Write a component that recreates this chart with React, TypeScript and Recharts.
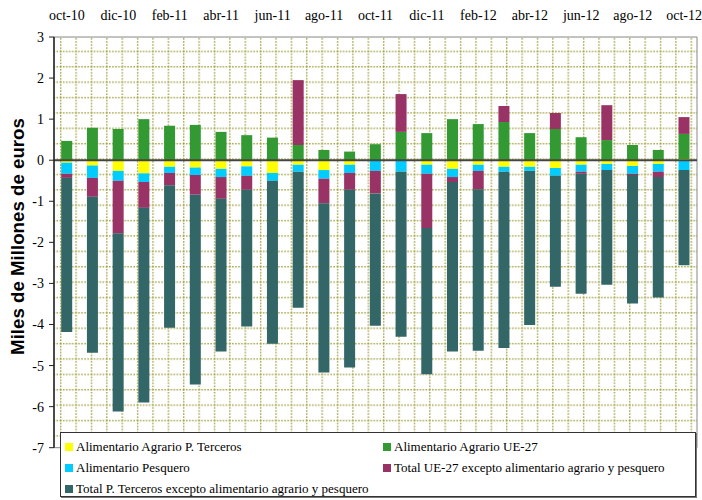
import React from 'react';
import { BarChart, Bar, XAxis, YAxis, CartesianGrid, ReferenceLine, ReferenceArea, Legend } from 'recharts';

const months = ['oct-10','nov-10','dic-10','ene-11','feb-11','mar-11','abr-11','may-11','jun-11','jul-11','ago-11','sep-11','oct-11','nov-11','dic-11','ene-12','feb-12','mar-12','abr-12','may-12','jun-12','jul-12','ago-12','sep-12','oct-12'];

const agrarioTerceros = [-0.06,-0.13,-0.26,-0.32,-0.16,-0.18,-0.21,-0.15,-0.31,-0.11,-0.24,-0.11,-0.01,-0.01,-0.11,-0.21,-0.11,-0.16,-0.16,-0.19,-0.11,-0.09,-0.14,-0.09,0.03];
const agrarioUE = [0.47,0.79,0.76,1.00,0.84,0.86,0.69,0.61,0.55,0.37,0.25,0.21,0.39,0.69,0.66,1.00,0.88,0.93,0.66,0.76,0.56,0.49,0.37,0.25,0.61];
const pesquero = [-0.27,-0.30,-0.24,-0.21,-0.15,-0.18,-0.20,-0.23,-0.19,-0.17,-0.21,-0.20,-0.25,-0.27,-0.22,-0.20,-0.15,-0.12,-0.10,-0.19,-0.17,-0.15,-0.19,-0.19,-0.24];
const restoUE = [-0.10,-0.46,-1.28,-0.63,-0.30,-0.48,-0.53,-0.34,0,1.58,-0.60,-0.41,-0.55,0.92,-1.32,-0.12,-0.45,0.39,0,0.39,-0.05,0.85,-0.03,-0.13,0.41];
const restoTerceros = [-3.75,-3.80,-4.34,-4.74,-3.47,-4.62,-3.72,-3.33,-3.97,-3.31,-4.12,-4.33,-3.22,-4.02,-3.56,-4.13,-3.93,-4.29,-3.75,-2.70,-2.92,-2.79,-3.13,-2.93,-2.32];

const yTicks = [-7,-6,-5,-4,-3,-2,-1,0,1,2,3];

const series = [
  { key: 'agrarioTerceros', name: 'Alimentario Agrario P. Terceros', color: '#FFFF00' },
  { key: 'agrarioUE', name: 'Alimentario Agrario UE-27', color: '#339933' },
  { key: 'pesquero', name: 'Alimentario Pesquero', color: '#00CCFF' },
  { key: 'restoUE', name: 'Total UE-27 excepto alimentario agrario y pesquero', color: '#993366' },
  { key: 'restoTerceros', name: 'Total P. Terceros excepto alimentario agrario y pesquero', color: '#336666' },
];

const data = months.map((m, i) => ({
  month: m,
  agrarioTerceros: agrarioTerceros[i],
  agrarioUE: agrarioUE[i],
  pesquero: pesquero[i],
  restoUE: restoUE[i],
  restoTerceros: restoTerceros[i],
}));

const legendOrder = [0, 1, 2, 3, 4];
const SERIF = 'Liberation Serif, serif';
const SVG_SERIF = 'Times New Roman, Liberation Serif, DejaVu Serif, serif';

const LegendBox = () => (
  <div style={{
    width: 636, height: 65, boxSizing: 'border-box', background: '#fff',
    border: '1px solid #333', boxShadow: '1px 1px 0 #777',
    fontFamily: SERIF, fontSize: 13, color: '#000',
    paddingLeft: 4, paddingTop: 3, display: 'grid', gridTemplateColumns: '318px 1fr', gridAutoRows: '21px',
  }}>
    {legendOrder.map((idx) => {
      const s = series[idx];
      return (
        <div key={s.key} style={{ display: 'flex', alignItems: 'center', whiteSpace: 'nowrap', gridColumn: idx === 4 ? '1 / span 2' : undefined }}>
          <span style={{ display: 'inline-block', width: 8, height: 8, background: s.color, marginRight: 3 }} />
          <span>{s.name}</span>
        </div>
      );
    })}
  </div>
);

const XTick = (props: any) => (
  <text x={props.x} y={props.y} textAnchor="middle" fontFamily={SVG_SERIF} fontSize={14} fill="#000">
    {props.payload.value}
  </text>
);

const YTick = (props: any) => (
  <text x={props.x} y={props.y} dy="0.355em" textAnchor="end" fontFamily={SVG_SERIF} fontSize={14} fill="#000">
    {props.payload.value}
  </text>
);

const YLabel = () => (
  <text x={17} y={236.5} transform="rotate(-90 17 236.5)" textAnchor="middle" dominantBaseline="central"
    fontFamily="Arial, Liberation Sans, sans-serif" fontWeight="bold" fontSize={18.7} fill="#000">
    Miles de Millones de euros
  </text>
);

export default function App() {
  return (
    <div style={{ position: 'absolute', left: 0, top: 0, width: 702, height: 500, background: '#fff', fontFamily: SERIF }}>
      <BarChart width={702} height={500} data={data} stackOffset="sign" barCategoryGap="28%"
        margin={{ top: 7, right: 5, left: 0, bottom: 52.3 }}>
        <defs>
          <pattern id="dotgrid" patternUnits="userSpaceOnUse" x={60} y={35.3} width={15.38} height={15.38}>
            <line x1={0.7} y1={0} x2={0.7} y2={15.38} stroke="#9c9c3a" strokeWidth={1.4} strokeDasharray="1.4 1.6" />
            <line x1={0} y1={0.7} x2={15.38} y2={0.7} stroke="#9c9c3a" strokeWidth={1.4} strokeDasharray="1.4 1.6" />
          </pattern>
        </defs>
        <CartesianGrid horizontal={false} vertical={false} fill="url(#dotgrid)" />
        <XAxis dataKey="month" orientation="top" height={30} interval={1} tickLine={false} axisLine={false}
          tickSize={0} tickMargin={17} tick={<XTick />} />
        <YAxis domain={[-7, 3]} ticks={yTicks} width={54} interval={0} tickSize={5} tickMargin={5}
          axisLine={{ stroke: '#222', strokeWidth: 1.5 }} tickLine={{ stroke: '#222' }} tick={<YTick />} />
        <ReferenceArea y1={-7} y2={3} fill="none" stroke="#888" strokeWidth={1} ifOverflow="extendDomain" />
        {series.map((s) => (
          <Bar key={s.key} dataKey={s.key} name={s.name} stackId="a" fill={s.color} isAnimationActive={false} />
        ))}
        <ReferenceLine y={0} stroke="#444" strokeWidth={2} />
        <Legend layout="horizontal" verticalAlign="middle" align="center" content={() => <LegendBox />}
          wrapperStyle={{ left: 60, top: 432, width: 637, height: 66 }} />
        <YLabel />
      </BarChart>
    </div>
  );
}
